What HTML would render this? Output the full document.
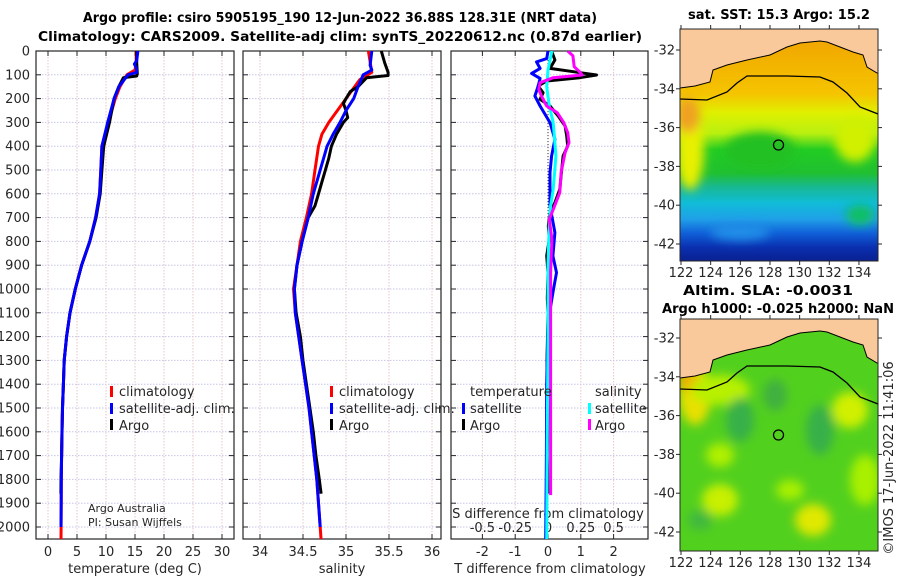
<!DOCTYPE html>
<html><head><meta charset="utf-8"><style>
html,body{margin:0;padding:0;background:#fff;}
svg{display:block;font-family:"DejaVu Sans","Liberation Sans",sans-serif;}
</style></head><body>
<svg id="fig" width="900" height="580" viewBox="0 0 900 580">
<defs>
<clipPath id="c1"><rect x="36" y="51" width="198" height="488"/></clipPath>
<clipPath id="c2"><rect x="243" y="51" width="198" height="488"/></clipPath>
<clipPath id="c3"><rect x="451" y="51" width="197" height="488"/></clipPath>
<clipPath id="cm1"><rect x="680" y="29" width="198" height="232"/></clipPath>
<clipPath id="cm2"><rect x="680" y="319" width="198" height="232"/></clipPath>
<linearGradient id="sstg" x1="0" y1="0" x2="0" y2="1">
<stop offset="0" stop-color="#f0a000"/><stop offset="0.28" stop-color="#f5c400"/>
<stop offset="0.36" stop-color="#e0f000"/><stop offset="0.45" stop-color="#b8f010"/>
<stop offset="0.52" stop-color="#22cc22"/><stop offset="0.62" stop-color="#20c030"/>
<stop offset="0.68" stop-color="#18b890"/><stop offset="0.75" stop-color="#10bcd8"/>
<stop offset="0.82" stop-color="#20a0e8"/><stop offset="0.88" stop-color="#1060d8"/>
<stop offset="0.94" stop-color="#0a30b0"/><stop offset="1" stop-color="#0a2090"/>
</linearGradient>
<filter id="blur4"><feGaussianBlur stdDeviation="5"/></filter>
</defs>

<text x="340" y="22" font-size="13" font-weight="bold" text-anchor="middle" fill="#000" textLength="514" lengthAdjust="spacingAndGlyphs">Argo profile: csiro 5905195_190 12-Jun-2022 36.88S 128.31E (NRT data)</text>
<text x="340" y="41" font-size="13" font-weight="bold" text-anchor="middle" fill="#000" textLength="604" lengthAdjust="spacingAndGlyphs">Climatology: CARS2009. Satellite-adj clim: synTS_20220612.nc (0.87d earlier)</text>

<g id="axes"></g>
<g id="series"></g>

<g font-size="13" fill="#262626">
<rect x="110" y="386" width="3" height="11" fill="#f00"/><text x="119" y="396">climatology</text>
<rect x="110" y="403" width="3" height="11" fill="#00f"/><text x="119" y="413">satellite-adj. clim.</text>
<rect x="110" y="419" width="3" height="11" fill="#000"/><text x="119" y="430">Argo</text>
<text x="88" y="512" font-size="11">Argo Australia</text>
<text x="88" y="526" font-size="11">PI: Susan Wijffels</text>
</g>
<g font-size="13" fill="#262626">
<rect x="330" y="386" width="3" height="11" fill="#f00"/><text x="339" y="396">climatology</text>
<rect x="330" y="403" width="3" height="11" fill="#00f"/><text x="339" y="413">satellite-adj. clim.</text>
<rect x="330" y="419" width="3" height="11" fill="#000"/><text x="339" y="430">Argo</text>
</g>
<g font-size="13" fill="#262626">
<text x="470" y="396">temperature</text><text x="595" y="396">salinity</text>
<rect x="462" y="403" width="3" height="11" fill="#00f"/><text x="470" y="413">satellite</text>
<rect x="462" y="419" width="3" height="11" fill="#000"/><text x="470" y="430">Argo</text>
<rect x="588" y="403" width="3" height="11" fill="#0ff"/><text x="595" y="413">satellite</text>
<rect x="588" y="419" width="3" height="11" fill="#f0f"/><text x="595" y="430">Argo</text>
</g>

<g>
<text x="779" y="19" font-size="13" font-weight="bold" text-anchor="middle" textLength="182" lengthAdjust="spacingAndGlyphs">sat. SST: 15.3 Argo: 15.2</text>
<g clip-path="url(#cm1)">
<rect x="680" y="29" width="198" height="232" fill="url(#sstg)"/>
<g filter="url(#blur4)">
<ellipse cx="690" cy="150" rx="14" ry="40" fill="#e8f000"/>
<ellipse cx="688" cy="115" rx="12" ry="18" fill="#f0a020"/>
<ellipse cx="855" cy="140" rx="20" ry="22" fill="#d0f000"/>
<ellipse cx="760" cy="150" rx="35" ry="18" fill="#20c020"/>
<ellipse cx="860" cy="215" rx="14" ry="10" fill="#10c060"/>
<ellipse cx="740" cy="232" rx="30" ry="8" fill="#2090e8"/>
</g>
<polygon points="680,29 878,29 878,73 877,73 867,67 863,55 853,52 840,47 827,42 820,41 800,43 787,47 770,55 747,60 727,65 713,70 710,82 695,86 680,88" fill="#f9c89b"/>
<polyline points="680,88 695,86 710,82 713,70 727,65 747,60 770,55 787,47 800,43 820,41 827,42 840,47 853,52 863,55 867,67 877,73 878,73" fill="none" stroke="#000" stroke-width="1"/>
<polyline points="680,99 707,100 727,92 737,83 747,76 787,76 820,77 833,82 847,93 860,107 878,114" fill="none" stroke="#000" stroke-width="1.3"/>
<circle cx="778.5" cy="145" r="5" fill="none" stroke="#000" stroke-width="1.3"/>
</g>
<rect x="680" y="29" width="198" height="232" fill="none" stroke="#262626" stroke-width="1"/>
</g>

<g>
<text x="768" y="295" font-size="13" font-weight="bold" text-anchor="middle" textLength="170" lengthAdjust="spacingAndGlyphs">Altim. SLA: -0.0031</text>
<text x="778" y="313" font-size="13" font-weight="bold" text-anchor="middle" textLength="232" lengthAdjust="spacingAndGlyphs">Argo h1000: -0.025 h2000: NaN</text>
<g clip-path="url(#cm2)">
<rect x="680" y="319" width="198" height="232" fill="#52d01e"/>
<g filter="url(#blur4)">
<ellipse cx="695" cy="395" rx="16" ry="30" fill="#e8e000"/>
<ellipse cx="688" cy="380" rx="10" ry="12" fill="#f0b000"/>
<ellipse cx="720" cy="390" rx="30" ry="15" fill="#b8f000"/>
<ellipse cx="850" cy="410" rx="18" ry="18" fill="#d0f000"/>
<ellipse cx="720" cy="500" rx="18" ry="16" fill="#c8f000"/>
<ellipse cx="813" cy="520" rx="18" ry="16" fill="#e0e800"/>
<ellipse cx="790" cy="490" rx="14" ry="10" fill="#a8f000"/>
<ellipse cx="865" cy="480" rx="15" ry="25" fill="#a8f000"/>
<ellipse cx="720" cy="455" rx="14" ry="12" fill="#b0f000"/>
<ellipse cx="740" cy="420" rx="14" ry="22" fill="#38b048"/>
<ellipse cx="820" cy="430" rx="14" ry="25" fill="#38b048"/>
<ellipse cx="775" cy="395" rx="12" ry="16" fill="#40b040"/>
<ellipse cx="700" cy="520" rx="12" ry="10" fill="#40b840"/>
</g>
<polygon points="680,319 878,319 878,363 877,363 867,357 863,345 853,342 840,337 827,332 820,331 800,333 787,337 770,345 747,350 727,355 713,360 710,372 695,376 680,378" fill="#f9c89b"/>
<polyline points="680,378 695,376 710,372 713,360 727,355 747,350 770,345 787,337 800,333 820,331 827,332 840,337 853,342 863,345 867,357 877,363 878,363" fill="none" stroke="#000" stroke-width="1"/>
<polyline points="680,389 707,390 727,382 737,373 747,366 787,366 820,367 833,372 847,383 860,397 878,404" fill="none" stroke="#000" stroke-width="1.3"/>
<circle cx="778.5" cy="435" r="5" fill="none" stroke="#000" stroke-width="1.3"/>
</g>
<rect x="680" y="319" width="198" height="232" fill="none" stroke="#262626" stroke-width="1"/>
</g>
<g id="mapaxes"></g>

<text transform="translate(893,458) rotate(-90)" font-size="13" text-anchor="middle" fill="#262626">©IMOS 17-Jun-2022 11:41:06</text>
</svg>

<script>
const depthTicks = [0,100,200,300,400,500,600,700,800,900,1000,1100,1200,1300,1400,1500,1600,1700,1800,1900,2000];
const tempTicks = [0,5,10,15,20,25,30];
const salTicks = [34,34.5,35,35.5,36];
const salTickLabels = ["34","34.5","35","35.5","36"];
const tdiffTicks = [-2,-1,0,1,2];
const sdiffTicks = [-0.5,-0.25,0,0.25,0.5];
const sdiffTickLabels = ["-0.5","-0.25","0","0.25","0.5"];

const tArgoDepth = [0,50,95,105,112,150,200,300,400,500,600,700,800,900,1000,1100,1200,1300,1400,1500,1600,1700,1800,1860];
const tArgoVal   = [15.3,15.3,15.4,15.3,13.0,12.2,11.4,10.6,9.6,9.3,9.0,8.3,7.2,5.8,4.7,3.8,3.2,2.8,2.65,2.5,2.42,2.35,2.25,2.22];
const tClimDepth = [0,50,80,100,150,200,300,400,500,600,700,800,900,1000,1100,1200,1300,1400,1500,1600,1700,1800,1900,2000,2055];
const tClimVal   = [15.2,15.2,15.0,13.6,12.4,11.6,10.4,9.3,9.1,8.9,8.2,7.2,5.8,4.7,3.8,3.2,2.8,2.65,2.5,2.42,2.35,2.3,2.28,2.26,2.25];
const tSatDepth  = [0,40,55,70,90,100,150,200,300,400,500,600,700,800,900,1000,1100,1200,1300,1400,1500,1600,1700,1800,1900,2000];
const tSatVal    = [15.5,15.3,14.9,15.2,15.3,13.8,12.2,11.4,10.3,9.3,9.1,8.9,8.2,7.2,5.8,4.7,3.8,3.2,2.8,2.65,2.5,2.42,2.35,2.3,2.28,2.25];

const sArgoDepth = [0,50,90,103,112,150,170,200,220,250,280,300,350,400,450,500,550,600,650,700,800,900,1000,1100,1200,1300,1400,1500,1600,1700,1800,1860];
const sArgoVal   = [35.41,35.45,35.49,35.49,35.24,35.14,35.05,35.0,34.97,35.0,35.02,34.97,34.89,34.83,34.8,34.76,34.72,34.68,34.64,34.56,34.49,34.43,34.4,34.42,34.47,34.5,34.54,34.58,34.62,34.65,34.69,34.71];
const sClimDepth = [0,90,120,200,250,300,350,400,500,600,700,800,900,1000,1100,1200,1300,1400,1500,1600,1700,1800,1900,2000,2055];
const sClimVal   = [35.26,35.3,35.16,35.0,34.9,34.8,34.72,34.68,34.64,34.6,34.54,34.47,34.43,34.39,34.41,34.45,34.49,34.53,34.57,34.6,34.63,34.66,34.68,34.7,34.71];
const sSatDepth  = [0,60,80,100,150,200,250,300,350,400,500,600,700,800,900,1000,1100,1200,1300,1400,1500,1600,1700,1800,1900,2000];
const sSatVal    = [35.3,35.28,35.3,35.2,35.14,35.09,35.0,34.93,34.85,34.78,34.7,34.62,34.56,34.49,34.43,34.4,34.41,34.45,34.49,34.53,34.57,34.6,34.63,34.66,34.68,34.7];

const dtArgoDepth = [0,38,73,87,101,112,126,147,175,203,231,273,315,357,399,441,511,581,637,679,735,791,861,931,1040,1100,1300,1500,1700,1860];
const dtArgoVal   = [0.11,0.21,0.06,0.77,1.48,0.97,-0.04,-0.3,-0.15,-0.24,0.06,0.31,0.52,0.57,0.6,0.46,0.41,0.36,0.21,0.06,0.01,0.04,-0.04,0.0,-0.02,0.0,-0.03,0.0,-0.02,0.0];
const dsArgoDepth = [0,20,66,87,101,112,133,161,189,231,259,301,343,385,427,511,595,651,707,791,931,1072,1300,1600,1866];
const dsArgoVal   = [0.15,0.19,0.2,0.24,0.26,0.04,-0.06,-0.07,-0.05,-0.01,0.07,0.12,0.15,0.16,0.13,0.1,0.09,0.05,0.01,0.03,0.02,0.02,0.02,0.02,0.02];
const dtSatDepth  = [0,32,46,73,94,115,147,189,231,301,371,441,511,651,763,861,931,1015,1141,1400,1700,2055];
const dtSatVal    = [0.0,-0.04,-0.35,-0.24,-0.5,-0.24,-0.3,-0.4,-0.24,0.06,0.21,0.11,0.06,0.06,0.21,0.15,0.26,0.15,0.0,-0.04,-0.05,-0.07];
const dsSatDepth  = [0,80,150,231,301,371,441,511,581,651,721,900,1200,1600,2055];
const dsSatVal    = [0.03,0.0,-0.01,0.01,0.04,0.05,0.06,0.05,0.04,0.02,0.01,0.0,0.0,-0.005,-0.01];

const yD = d => 51 + d*0.238;
const xT = t => 48 + t*5.8;
const xS = s => 260 + (s-34)*86;
const xDT = v => 548 + v*32.8;
const xDS = v => 548 + v*131.2;

const NS = "http://www.w3.org/2000/svg";
function mk(tag, attrs, parent){ const e=document.createElementNS(NS,tag); for(const k in attrs) e.setAttribute(k,attrs[k]); parent.appendChild(e); return e; }
const axes = document.getElementById('axes');
const series = document.getElementById('series');

const panels = [
  {x0:36,x1:234,ticks:tempTicks,labels:tempTicks.map(String),sx:xT,title:"temperature (deg C)",tx:135,name:'temperature'},
  {x0:243,x1:441,ticks:salTicks,labels:salTickLabels,sx:xS,title:"salinity",tx:342,name:'salinity'},
  {x0:451,x1:648,ticks:tdiffTicks,labels:tdiffTicks.map(String),sx:xDT,title:"T difference from climatology",tx:550,name:'difference'}
];
const yTop=51, yBot=539;
panels.forEach(p=>{
  const g = mk('g',{},axes);
  
  
  depthTicks.forEach(d=>{
    const gl = mk('line',{x1:p.x0,x2:p.x1,y1:yD(d),y2:yD(d),stroke:'#c6c6e6','stroke-width':1,'stroke-dasharray':'1.5,1.5'},g);
    
    
    mk('line',{x1:p.x0,x2:p.x0+5,y1:yD(d),y2:yD(d),stroke:'#262626'},g);
    mk('line',{x1:p.x1-5,x2:p.x1,y1:yD(d),y2:yD(d),stroke:'#262626'},g);
  });
  p.ticks.forEach((t,i)=>{
    const x=p.sx(t);
    const gl = mk('line',{x1:x,x2:x,y1:yTop,y2:yBot,stroke:'#e6c6c6','stroke-width':1,'stroke-dasharray':'1.5,1.5'},g);
    
    
    mk('line',{x1:x,x2:x,y1:yBot-5,y2:yBot,stroke:'#262626'},g);
    mk('line',{x1:x,x2:x,y1:yTop,y2:yTop+5,stroke:'#262626'},g);
    const tl = mk('text',{x:x,y:556,'font-size':13,'text-anchor':'middle',fill:'#262626'},g);
    tl.textContent = p.labels[i];
    
    
  });
  const fr = mk('rect',{x:p.x0,y:yTop,width:p.x1-p.x0,height:yBot-yTop,fill:'none',stroke:'#262626','stroke-width':1.2},g);
  
  
  const at = mk('text',{x:p.tx,y:573,'font-size':13,'text-anchor':'middle',fill:'#262626'},g);
  at.textContent = p.title;
  
  
});
depthTicks.forEach(d=>{
  const t = mk('text',{x:30,y:yD(d)+4.5,'font-size':13,'text-anchor':'end',fill:'#262626'},axes);
  t.textContent = String(d);
  
  
});
sdiffTicks.forEach((v,i)=>{
  const t = mk('text',{x:xDS(v),y:532,'font-size':13,'text-anchor':'middle',fill:'#262626'},axes);
  t.textContent = sdiffTickLabels[i];
  
  
});
const st = mk('text',{x:548,y:518,'font-size':13,'text-anchor':'middle',fill:'#262626'},axes);
st.textContent = 'S difference from climatology';


const zl = mk('line',{x1:548,x2:548,y1:yTop,y2:yBot,stroke:'#333','stroke-width':1,'stroke-dasharray':'1,2'},series);



function line(depths, vals, sx, color, clip, name, w){
  const pts = depths.map((d,i)=>sx(vals[i]).toFixed(1)+','+yD(d).toFixed(1)).join(' ');
  const pl = mk('polyline',{points:pts,fill:'none',stroke:color,'stroke-width':w||3,'stroke-linejoin':'round','clip-path':'url(#'+clip+')'},series);
  
  
}
line(tClimDepth,tClimVal,xT,'#f00','c1','temperature-climatology-line');
line(tArgoDepth,tArgoVal,xT,'#000','c1','temperature-argo-line');
line(tSatDepth,tSatVal,xT,'#00f','c1','temperature-satellite-line');
line(sClimDepth,sClimVal,xS,'#f00','c2','salinity-climatology-line');
line(sArgoDepth,sArgoVal,xS,'#000','c2','salinity-argo-line');
line(sSatDepth,sSatVal,xS,'#00f','c2','salinity-satellite-line');
line(dtArgoDepth,dtArgoVal,xDT,'#000','c3','t-diff-argo-line');
line(dtSatDepth,dtSatVal,xDT,'#00f','c3','t-diff-satellite-line');
line(dsSatDepth,dsSatVal,xDS,'#0ff','c3','s-diff-satellite-line');
line(dsArgoDepth,dsArgoVal,xDS,'#f0f','c3','s-diff-argo-line');

const lonTicks=[122,124,126,128,130,132,134];
const latTicks=[-32,-34,-36,-38,-40,-42];
const mx = lon => 681 + (lon-122)*14.83;
const ma = document.getElementById('mapaxes');
[{top:29,bot:261,off:0},{top:319,bot:551,off:290}].forEach((m,k)=>{
  lonTicks.forEach(l=>{
    const t = mk('text',{x:mx(l),y:m.bot+16,'font-size':13,'text-anchor':'middle',fill:'#262626'},ma);
    t.textContent=String(l);
    
    
    mk('line',{x1:mx(l),x2:mx(l),y1:m.bot,y2:m.bot+4,stroke:'#262626'},ma);
    mk('line',{x1:mx(l),x2:mx(l),y1:m.top-4,y2:m.top,stroke:'#262626'},ma);
  });
  latTicks.forEach(la=>{
    const y = 50 + (-32-la)*19.4 + m.off + (k?-2:0);
    const t = mk('text',{x:675,y:y+4.5,'font-size':13,'text-anchor':'end',fill:'#262626'},ma);
    t.textContent=String(la);
    
    
    mk('line',{x1:676,x2:680,y1:y,y2:y,stroke:'#262626'},ma);
    mk('line',{x1:878,x2:882,y1:y,y2:y,stroke:'#262626'},ma);
  });
});
</script>
</body></html>
